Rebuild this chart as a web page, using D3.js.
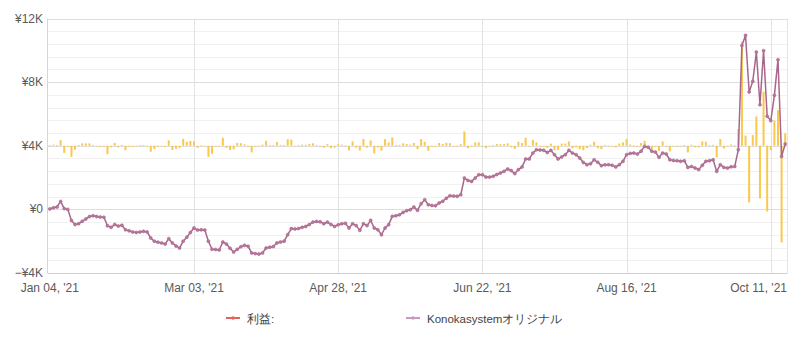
<!DOCTYPE html>
<html>
<head>
<meta charset="utf-8">
<script src="https://cdn.jsdelivr.net/npm/d3@7/dist/d3.min.js"></script>
<style>
  html, body { margin: 0; padding: 0; background: #fff; }
  svg text { font-family: "Liberation Sans", Arial, sans-serif; }
</style>
</head>
<body>
<svg id="chart" width="793" height="343"></svg>
<script>
// Cumulative balance (yen), one value per trading day
const balance = [
  30, 100, 150, 500, 50, 0, -700, -950, -900, -750,
  -600, -450, -400, -450, -480, -500, -1030, -1130, -950, -1050,
  -1000, -1280, -1350, -1420, -1450, -1420, -1380, -1420, -1800, -2000,
  -2060, -2110, -2180, -1840, -2110, -2300, -2430, -2000, -1750, -1450,
  -1170, -1300, -1280, -1300, -2000, -2510, -2520, -2550, -2050, -2180,
  -2450, -2680, -2510, -2350, -2260, -2320, -2740, -2780, -2810, -2740,
  -2430, -2380, -2340, -2110, -2050, -2000, -1590, -1210, -1230, -1200,
  -1130, -1070, -950, -800, -760, -780, -900, -800, -950, -1070,
  -970, -900, -880, -1170, -900, -1020, -1320, -900, -1020, -690,
  -1170, -1280, -1590, -1170, -960, -440, -400, -340, -190, -80,
  -20, 150, -60, 360, 610, 290, 250, 230, 400, 510,
  700, 860, 840, 820, 920, 1970, 1820, 1760, 1970, 2180,
  2180, 2030, 2030, 2080, 2190, 2290, 2390, 2540, 2440, 2250,
  2500, 2670, 3170, 3170, 3540, 3750, 3730, 3710, 3580, 3710,
  3440, 3170, 3300, 3440, 3710, 3540, 3440, 3230, 2950, 2810,
  2870, 3120, 2960, 2750, 2800, 2810, 2770, 2670, 2810, 3020,
  3440, 3520, 3540, 3480, 3650, 3960, 3900, 3650, 3600, 3270,
  3540, 3480, 3120, 3080, 3060, 3020, 3060, 2640, 2700, 2600,
  2500, 2770, 3020, 3060, 3120, 2390, 2810, 2640, 2600, 2680,
  2700, 3750, 10300, 10940, 7380, 8050, 9890, 6580, 9980, 5850,
  5580, 7170, 9410, 3330, 4110
];

// Daily profit (yen), one value per trading day
const profit = [
  30, 70, 50, 350, -450, -50, -700, -250, 50, 150,
  150, 150, 50, -50, -30, -20, -530, -100, 180, -100,
  50, -280, -70, -70, -30, 30, 40, -40, -380, -200,
  -60, -50, -70, 340, -270, -190, -130, 430, 250, 300,
  280, -130, 20, -20, -700, -510, -10, -30, 500, -130,
  -270, -230, 170, 160, 90, -60, -420, -40, -30, 70,
  310, 50, 40, 230, 60, 50, 410, 380, -20, 30,
  70, 60, 120, 150, 40, -20, -120, 100, -150, -120,
  100, 70, 20, -290, 270, -120, -300, 420, -120, 330,
  -480, -110, -310, 420, 210, 520, 40, 60, 150, 110,
  60, 170, -210, 420, 250, -320, -40, -20, 170, 110,
  190, 160, -20, -20, 100, 900, -150, -60, 210, 210,
  0, -150, 0, 50, 110, 100, 100, 150, -100, -190,
  250, 170, 500, 0, 370, 210, -20, -20, -130, 130,
  -270, -270, 130, 140, 270, -170, -100, -210, -280, -140,
  60, 250, -160, -210, 50, 10, -40, -100, 140, 210,
  420, 80, 20, -60, 170, 310, -60, -250, -50, -330,
  270, -60, -360, -40, -20, -40, 40, -420, 60, -100,
  -100, 270, 250, 40, 60, -730, 420, -170, -40, 80,
  20, 1050, 6550, 640, -3560, 670, 1840, -3310, 3400, -4130,
  -270, 1590, 2240, -6080, 780
];

// Category axis labels (every 40 trading days)
const tickIndex = [0, 40, 80, 120, 160, 200];
const tickLabels = ["Jan 04, '21", "Mar 03, '21", "Apr 28, '21", "Jun 22, '21", "Aug 16, '21", "Oct 11, '21"];

// Value axis
const yTicks = [-4000, 0, 4000, 8000, 12000];
const yLabels = ["\u2212\u00a54K", "\u00a50", "\u00a54K", "\u00a58K", "\u00a512K"];

// Legend entries
const legendNames = ["利益:", "Konokasystemオリジナル"];

const svg = d3.select("#chart");
const plot = { left: 48, right: 787, top: 18.5, bottom: 273 };

const x = d3.scalePoint()
  .domain(d3.range(balance.length))
  .range([plot.left, plot.right])
  .padding(0.5);

const y = d3.scaleLinear().domain([-4000, 12000]).range([plot.bottom, plot.top]);
// Daily profit scale: zero sits on the ¥4K line
const yBar = d3.scaleLinear().domain([-8000, 8000]).range([plot.bottom, plot.top]);

// Minor horizontal grid
const minor = d3.range(-4000, 12001, 800);
svg.append("g").selectAll("line").data(minor).join("line")
  .attr("x1", plot.left).attr("x2", plot.right)
  .attr("y1", d => Math.round(y(d)) + 0.5).attr("y2", d => Math.round(y(d)) + 0.5)
  .attr("stroke", "#f1f1f1").attr("stroke-width", 1);

// Major horizontal grid
svg.append("g").selectAll("line").data(yTicks).join("line")
  .attr("x1", plot.left).attr("x2", plot.right)
  .attr("y1", d => Math.round(y(d)) + 0.5).attr("y2", d => Math.round(y(d)) + 0.5)
  .attr("stroke", "#dedede").attr("stroke-width", 1);

// Vertical grid at category labels
svg.append("g").selectAll("line").data(tickIndex.slice(1)).join("line")
  .attr("x1", d => Math.round(x(d)) + 0.5).attr("x2", d => Math.round(x(d)) + 0.5)
  .attr("y1", plot.top).attr("y2", plot.bottom)
  .attr("stroke", "#e2e2e2").attr("stroke-width", 1);

// Plot frame
svg.append("line").attr("x1", plot.left - 0.5).attr("x2", plot.left - 0.5)
  .attr("y1", plot.top).attr("y2", plot.bottom).attr("stroke", "#d6d6d6");
svg.append("line").attr("x1", plot.right + 0.5).attr("x2", plot.right + 0.5)
  .attr("y1", plot.top).attr("y2", plot.bottom).attr("stroke", "#e4e4e4");
svg.append("line").attr("x1", plot.left - 0.5).attr("x2", plot.right + 0.5)
  .attr("y1", plot.bottom + 0.5).attr("y2", plot.bottom + 0.5).attr("stroke", "#cfcfcf");

// Y axis labels
svg.append("g").selectAll("text").data(yTicks).join("text")
  .attr("x", 43).attr("y", d => y(d) + 4)
  .attr("text-anchor", "end").attr("font-size", 12).attr("fill", "#5a5a5a")
  .text((d, i) => yLabels[i]);

// X axis labels (kept inside the plot's right edge)
svg.append("g").selectAll("text").data(tickIndex).join("text")
  .attr("x", d => x(d)).attr("y", 292)
  .attr("text-anchor", "middle").attr("font-size", 12).attr("fill", "#5a5a5a")
  .text((d, i) => tickLabels[i])
  .each(function(d) {
    const w = this.getComputedTextLength();
    const cx = x(d);
    if (cx + w / 2 > plot.right) d3.select(this).attr("x", plot.right - w / 2);
  });

// Daily profit bars
const bw = 2;
svg.append("g").selectAll("rect").data(profit).join("rect")
  .attr("x", (d, i) => x(i) - bw / 2)
  .attr("width", bw)
  .attr("y", d => Math.min(yBar(d), yBar(0)))
  .attr("height", d => Math.max(0.8, Math.abs(yBar(d) - yBar(0))))
  .attr("fill", "#f9c84c");

// Balance line
const line = d3.line().x((d, i) => x(i)).y(d => y(d));
svg.append("path").datum(balance)
  .attr("d", line)
  .attr("fill", "none")
  .attr("stroke", "#a9668c")
  .attr("stroke-width", 1.5)
  .attr("stroke-linejoin", "round");

svg.append("g").selectAll("circle").data(balance).join("circle")
  .attr("cx", (d, i) => x(i)).attr("cy", d => y(d))
  .attr("r", 1.5)
  .attr("fill", "#b7789b")
  .attr("stroke", "#a9668c").attr("stroke-width", 0.6);

// Legend
const legendX = [226, 406];
const legendColors = ["#e8605a", "#c79bbb"];
const lg = svg.append("g").selectAll("g").data(legendNames).join("g")
  .attr("transform", (d, i) => `translate(${legendX[i]},318)`);
lg.append("line").attr("x1", 0).attr("x2", 14).attr("y1", 0).attr("y2", 0)
  .attr("stroke", (d, i) => legendColors[i]).attr("stroke-width", 2);
lg.append("circle").attr("cx", 7).attr("cy", 0).attr("r", 1.8)
  .attr("fill", (d, i) => legendColors[i]);
lg.append("text").attr("x", 21).attr("y", 4.5)
  .attr("font-size", 11.5).attr("fill", "#444")
  .text(d => d);
</script>
</body>
</html>
